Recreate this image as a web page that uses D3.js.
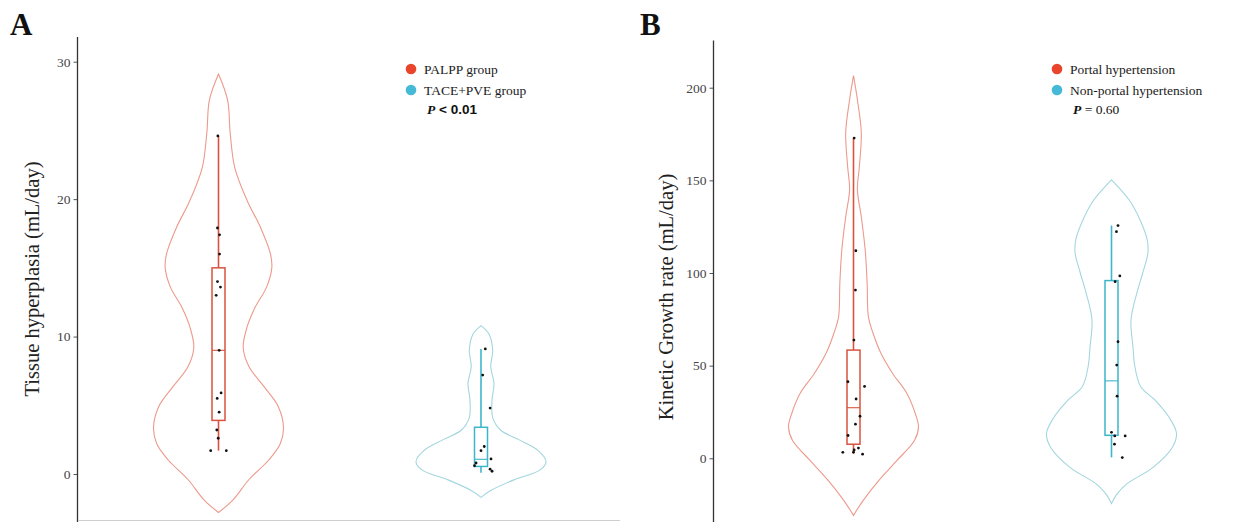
<!DOCTYPE html>
<html>
<head>
<meta charset="utf-8">
<script src="https://cdn.jsdelivr.net/npm/d3@7/dist/d3.min.js"></script>
<style>
  html, body { margin: 0; padding: 0; background: #fff; }
  svg { display: block; }
</style>
</head>
<body>
<svg id="chart" width="1239" height="522"></svg>
<script>
// ---------------- DATA ----------------
// Panel A
const aCategories = ["PALPP group", "TACE+PVE group"];
const aTicks = [0, 10, 20, 30];
const aYTitle = "Tissue hyperplasia (mL/day)";
const aPText = ["P", " < ", "0.01"];
const palppValues = [24.6, 17.9, 17.4, 16.0, 14.0, 13.6, 13.0, 9.0, 5.9, 5.5, 4.5, 3.2, 2.6, 1.7, 1.7];
const palppJitter = [-0.05, -0.08, 0.08, 0.08, -0.08, 0.15, -0.18, 0.05, 0.2, -0.1, 0.05, -0.13, -0.02, -0.6, 0.6];
const tacepveValues = [9.1, 7.2, 4.8, 2.0, 1.7, 1.1, 0.8, 0.6, 0.35, 0.2];
const tacepveJitter = [0.33, 0.13, 0.7, 0.25, 0.0, 0.77, -0.38, -0.5, 0.7, 0.85];
// box stats: [lower whisker, Q1, median, Q3, upper whisker]
const palppBox = [1.7, 3.9, 9.0, 15.0, 24.6];
const tacepveBox = [0.1, 0.55, 1.07, 3.4, 9.1];
// violin outlines: value and relative half-width
const palppViolinV = [29.1, 27.2, 24.8, 22.3, 19.9, 17.9, 16.0, 15.0, 13.6, 12.1, 10.7, 9.2, 7.8, 6.3, 4.9, 3.4, 2.2, 1.0, -0.4, -1.9, -2.8];
const palppViolinW = [0, 0.14, 0.18, 0.25, 0.44, 0.65, 0.8, 0.82, 0.74, 0.56, 0.44, 0.38, 0.47, 0.71, 0.92, 1.0, 0.95, 0.77, 0.47, 0.22, 0];
const tacepveViolinV = [10.8, 10.2, 9.0, 7.8, 6.6, 5.4, 4.1, 3.2, 2.5, 1.7, 0.9, 0.3, -0.4, -1.2, -1.7];
const tacepveViolinW = [0, 0.12, 0.18, 0.15, 0.2, 0.17, 0.18, 0.3, 0.58, 0.88, 1.0, 0.91, 0.52, 0.15, 0];

// Panel B
const bCategories = ["Portal hypertension", "Non-portal hypertension"];
const bTicks = [0, 50, 100, 150, 200];
const bYTitle = "Kinetic Growth rate (mL/day)";
const bPText = ["P", " = ", "0.60"];
const portalValues = [172.8, 112.0, 90.8, 63.8, 41.3, 38.8, 32.0, 22.7, 18.4, 12.3, 5.5, 4.5, 3.3, 3.2, 2.2];
const portalJitter = [0.05, 0.18, 0.15, 0.03, -0.43, 0.85, 0.2, 0.5, 0.15, -0.42, 0.38, 0.05, 0.0, -0.82, 0.7];
const nonPortalValues = [125.6, 122.3, 98.4, 95.3, 62.9, 50.3, 33.5, 14.0, 12.1, 12.1, 7.6, 0.4];
const nonPortalJitter = [0.5, 0.38, 0.64, 0.28, 0.5, 0.4, 0.43, 0.0, 0.25, 1.05, 0.23, 0.83];
const portalBox = [2.5, 7.6, 27.3, 58.4, 172.8];
const nonPortalBox = [0.5, 12.4, 41.8, 95.9, 125.6];
const portalViolinV = [206.5, 193.5, 175.7, 157.3, 145, 130.3, 112.4, 94.6, 76.2, 67.6, 56.8, 45.9, 35.1, 24.2, 16.9, 9.7, -1.1, -11.9, -22.7, -30.8];
const portalViolinW = [0, 0.06, 0.12, 0.09, 0.06, 0.12, 0.18, 0.21, 0.23, 0.3, 0.42, 0.6, 0.82, 0.95, 1.0, 0.94, 0.67, 0.39, 0.15, 0];
const nonPortalViolinV = [150.3, 139.5, 128.6, 117.8, 110.8, 100, 89.2, 74.6, 60.2, 49.4, 38.6, 31.4, 22.4, 13.5, 6.1, -4.9, -13.7, -19.1, -24.4];
const nonPortalViolinW = [0, 0.27, 0.44, 0.55, 0.56, 0.48, 0.39, 0.30, 0.33, 0.36, 0.45, 0.67, 0.88, 1.0, 0.94, 0.64, 0.24, 0.09, 0];

// ---------------- STYLE ----------------
const RED_LEG = "#e8452c", CYAN_LEG = "#46b9d6";
const RED_VIOLIN = "#ec9a8b", CYAN_VIOLIN = "#a3d6df";
const RED_BOX = "#d9533f", CYAN_BOX = "#3db6c9";
const SERIF = "'Liberation Serif', 'Times New Roman', serif";
const SANS = "'Liberation Sans', Arial, sans-serif";

const svg = d3.select("#chart");

function drawPanel(cfg) {
  const g = svg.append("g");
  const y = d3.scaleLinear().domain(cfg.yDomain).range(cfg.yRange);
  const x = d3.scalePoint().domain(cfg.categories).range(cfg.centers);
  const w = d3.scaleLinear().domain([0, 1]).range([0, 65]);
  const jit = d3.scaleLinear().domain([-1, 1]).range([-13, 13]);

  // axis
  const axis = d3.axisLeft(y).tickValues(cfg.ticks).tickSize(4).tickPadding(3);
  const ax = g.append("g").attr("transform", `translate(${cfg.axisX},0)`).call(axis);
  ax.select(".domain").remove();
  ax.append("line").attr("x1", 0).attr("x2", 0)
    .attr("y1", cfg.axisTop).attr("y2", 522).attr("stroke", "#333").attr("stroke-width", 1.3);
  ax.selectAll(".tick line").attr("stroke", "#555");
  ax.selectAll(".tick text").attr("font-family", SERIF).attr("font-size", 13.5).attr("fill", "#444");

  // title
  g.append("text")
    .attr("transform", `translate(${cfg.titleX},${cfg.titleY}) rotate(-90)`)
    .attr("text-anchor", "middle")
    .attr("font-family", SERIF).attr("font-size", cfg.titleSize).attr("fill", "#222")
    .text(cfg.yTitle);

  // panel letter
  g.append("text").attr("x", cfg.letterX).attr("y", 35)
    .attr("font-family", SERIF).attr("font-size", 31).attr("font-weight", "bold").attr("fill", "#111")
    .text(cfg.letter);

  cfg.groups.forEach((grp, i) => {
    const cx = x(cfg.categories[i]);
    const pts = grp.violinV.map((v, k) => ({ v, w: grp.violinW[k] }));
    const area = d3.area()
      .y(d => y(d.v))
      .x0(d => cx - w(d.w))
      .x1(d => cx + w(d.w))
      .curve(d3.curveCatmullRom.alpha(0.5));
    g.append("path").attr("d", area(pts))
      .attr("fill", "none").attr("stroke", grp.violinColor).attr("stroke-width", 1.1);

    const [lo, q1, med, q3, hi] = grp.box;
    const bw = 13;
    g.append("line").attr("x1", cx).attr("x2", cx).attr("y1", y(hi)).attr("y2", y(q3))
      .attr("stroke", grp.boxColor).attr("stroke-width", 1.6);
    g.append("line").attr("x1", cx).attr("x2", cx).attr("y1", y(q1)).attr("y2", y(lo))
      .attr("stroke", grp.boxColor).attr("stroke-width", 1.6);
    g.append("rect").attr("x", cx - bw / 2).attr("width", bw)
      .attr("y", y(q3)).attr("height", y(q1) - y(q3))
      .attr("fill", "none").attr("stroke", grp.boxColor).attr("stroke-width", 1.5);
    g.append("line").attr("x1", cx - bw / 2).attr("x2", cx + bw / 2).attr("y1", y(med)).attr("y2", y(med))
      .attr("stroke", grp.boxColor).attr("stroke-width", 1.1);

    g.selectAll(null).data(grp.values).enter().append("circle")
      .attr("cx", (d, k) => cx + jit(grp.jitter[k]))
      .attr("cy", d => y(d))
      .attr("r", 1.4).attr("fill", "#111");
  });

  // legend
  const lg = g.append("g");
  cfg.categories.forEach((c, i) => {
    lg.append("circle").attr("cx", cfg.legendX).attr("cy", cfg.legendY + i * 21)
      .attr("r", 5.3).attr("fill", i === 0 ? RED_LEG : CYAN_LEG);
    lg.append("text").attr("x", cfg.legendX + 13).attr("y", cfg.legendY + i * 21 + 5)
      .attr("font-family", SERIF).attr("font-size", 13.5).attr("fill", "#1a1a1a").text(c);
  });
  const pt = lg.append("text").attr("x", cfg.legendX + 16).attr("y", cfg.legendY + 45)
    .attr("font-size", 13.5).attr("fill", "#111");
  pt.append("tspan").attr("font-family", SERIF).attr("font-style", "italic").attr("font-weight", "bold").text(cfg.pText[0]);
  pt.append("tspan").attr("font-family", cfg.pSans ? SANS : SERIF).attr("font-weight", cfg.pSans ? "bold" : "normal").text(cfg.pText[1]);
  pt.append("tspan").attr("font-family", cfg.pSans ? SANS : SERIF).attr("font-weight", cfg.pSans ? "bold" : "normal").text(cfg.pText[2]);
}

drawPanel({
  letter: "A", letterX: 10,
  categories: aCategories, ticks: aTicks, yTitle: aYTitle, pText: aPText, pSans: true,
  yDomain: [0, 30], yRange: [474, 61.7], axisX: 77.5, axisTop: 37,
  centers: [218.5, 481], titleX: 39, titleY: 279, titleSize: 20.5,
  legendX: 411, legendY: 69,
  groups: [
    { values: palppValues, jitter: palppJitter, box: palppBox, violinV: palppViolinV, violinW: palppViolinW, violinColor: RED_VIOLIN, boxColor: RED_BOX },
    { values: tacepveValues, jitter: tacepveJitter, box: tacepveBox, violinV: tacepveViolinV, violinW: tacepveViolinW, violinColor: CYAN_VIOLIN, boxColor: CYAN_BOX }
  ]
});

drawPanel({
  letter: "B", letterX: 640,
  categories: bCategories, ticks: bTicks, yTitle: bYTitle, pText: bPText, pSans: false,
  yDomain: [0, 200], yRange: [458.3, 87.7], axisX: 713.5, axisTop: 40.5,
  centers: [853.5, 1111.5], titleX: 673, titleY: 297, titleSize: 20.5,
  legendX: 1057, legendY: 69,
  groups: [
    { values: portalValues, jitter: portalJitter, box: portalBox, violinV: portalViolinV, violinW: portalViolinW, violinColor: RED_VIOLIN, boxColor: RED_BOX },
    { values: nonPortalValues, jitter: nonPortalJitter, box: nonPortalBox, violinV: nonPortalViolinV, violinW: nonPortalViolinW, violinColor: CYAN_VIOLIN, boxColor: CYAN_BOX }
  ]
});

// faint bottom baseline in panel A
svg.append("line").attr("x1", 78).attr("x2", 620).attr("y1", 520.5).attr("y2", 520.5)
  .attr("stroke", "#cfcfcf").attr("stroke-width", 1);
</script>
</body>
</html>
